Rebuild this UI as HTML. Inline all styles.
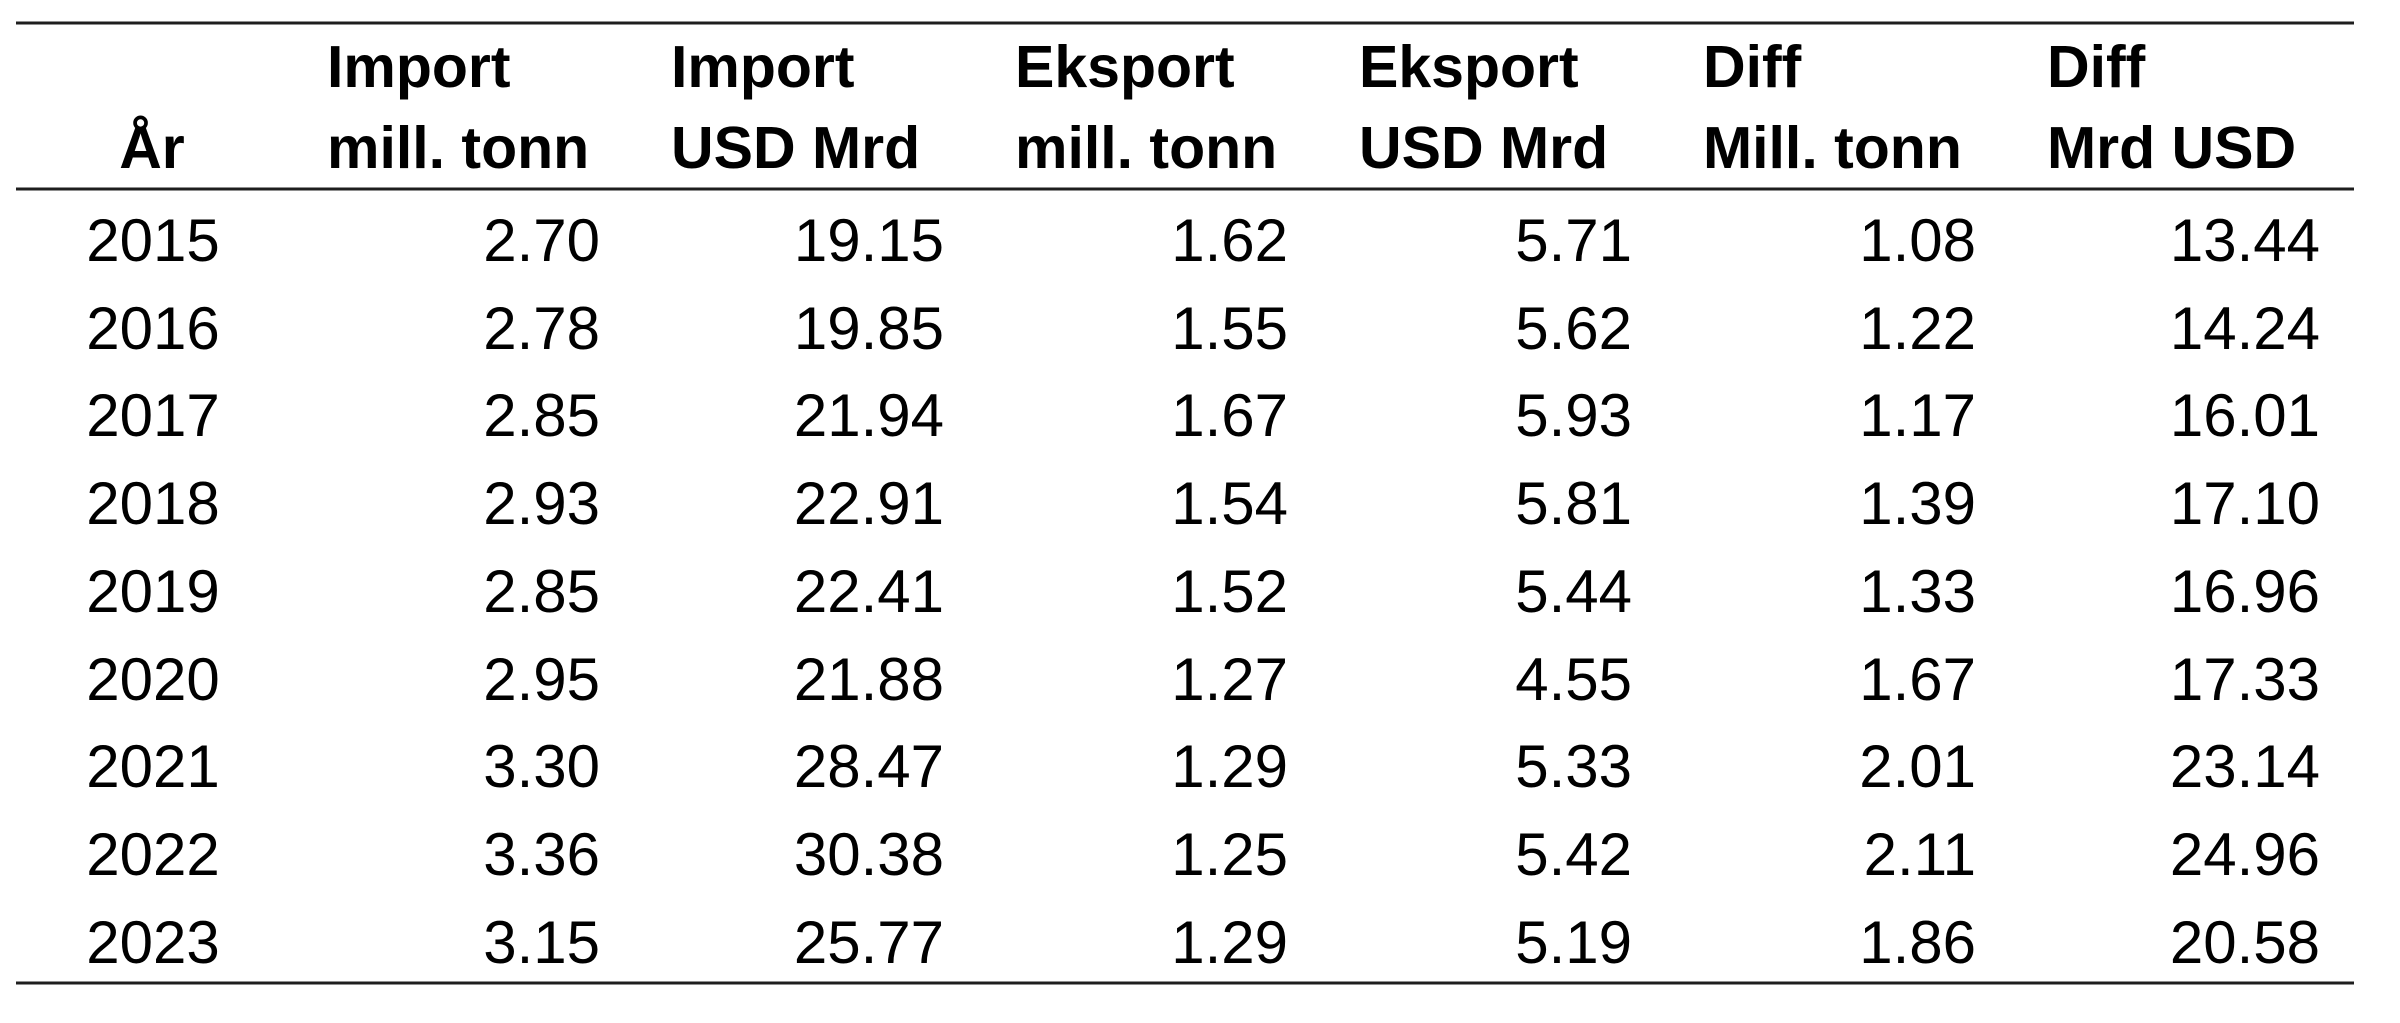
<!DOCTYPE html>
<html>
<head>
<meta charset="utf-8">
<style>
  html, body { margin: 0; padding: 0; background: #ffffff; }
  body { width: 2400px; height: 1023px; overflow: hidden; }
  svg { display: block; }
  .h { font-family: "Liberation Sans", Arial, sans-serif; font-weight: bold; font-size: 59px; fill: #000; }
  .d { font-family: "Liberation Sans", Arial, sans-serif; font-size: 60px; fill: #000; }
</style>
</head>
<body>
<svg width="2400" height="1023" viewBox="0 0 2400 1023" xmlns="http://www.w3.org/2000/svg">
  <rect x="0" y="0" width="2400" height="1023" fill="#ffffff"/>
  <!-- rules -->
  <line x1="16" y1="23" x2="2354" y2="23" stroke="#1e1e1e" stroke-width="3"/>
  <line x1="16" y1="189" x2="2354" y2="189" stroke="#1e1e1e" stroke-width="3"/>
  <line x1="16" y1="983" x2="2354" y2="983" stroke="#1e1e1e" stroke-width="3"/>

  <!-- header -->
  <text class="h" x="152" y="168" text-anchor="middle">År</text>
  <text class="h" x="327" y="87">Import</text>
  <text class="h" x="327" y="168">mill. tonn</text>
  <text class="h" x="671" y="87">Import</text>
  <text class="h" x="671" y="168">USD Mrd</text>
  <text class="h" x="1015" y="87">Eksport</text>
  <text class="h" x="1015" y="168">mill. tonn</text>
  <text class="h" x="1359" y="87">Eksport</text>
  <text class="h" x="1359" y="168">USD Mrd</text>
  <text class="h" x="1703" y="87">Diff</text>
  <text class="h" x="1703" y="168">Mill. tonn</text>
  <text class="h" x="2047" y="87">Diff</text>
  <text class="h" x="2047" y="168">Mrd USD</text>

  <!-- rows -->
  <g class="d">
    <!-- 2015 -->
    <text x="153" y="261" text-anchor="middle">2015</text>
    <text x="600" y="261" text-anchor="end">2.70</text>
    <text x="944" y="261" text-anchor="end">19.15</text>
    <text x="1288" y="261" text-anchor="end">1.62</text>
    <text x="1632" y="261" text-anchor="end">5.71</text>
    <text x="1976" y="261" text-anchor="end">1.08</text>
    <text x="2320" y="261" text-anchor="end">13.44</text>
    <!-- 2016 -->
    <text x="153" y="349" text-anchor="middle">2016</text>
    <text x="600" y="349" text-anchor="end">2.78</text>
    <text x="944" y="349" text-anchor="end">19.85</text>
    <text x="1288" y="349" text-anchor="end">1.55</text>
    <text x="1632" y="349" text-anchor="end">5.62</text>
    <text x="1976" y="349" text-anchor="end">1.22</text>
    <text x="2320" y="349" text-anchor="end">14.24</text>
    <!-- 2017 -->
    <text x="153" y="436" text-anchor="middle">2017</text>
    <text x="600" y="436" text-anchor="end">2.85</text>
    <text x="944" y="436" text-anchor="end">21.94</text>
    <text x="1288" y="436" text-anchor="end">1.67</text>
    <text x="1632" y="436" text-anchor="end">5.93</text>
    <text x="1976" y="436" text-anchor="end">1.17</text>
    <text x="2320" y="436" text-anchor="end">16.01</text>
    <!-- 2018 -->
    <text x="153" y="524" text-anchor="middle">2018</text>
    <text x="600" y="524" text-anchor="end">2.93</text>
    <text x="944" y="524" text-anchor="end">22.91</text>
    <text x="1288" y="524" text-anchor="end">1.54</text>
    <text x="1632" y="524" text-anchor="end">5.81</text>
    <text x="1976" y="524" text-anchor="end">1.39</text>
    <text x="2320" y="524" text-anchor="end">17.10</text>
    <!-- 2019 -->
    <text x="153" y="612" text-anchor="middle">2019</text>
    <text x="600" y="612" text-anchor="end">2.85</text>
    <text x="944" y="612" text-anchor="end">22.41</text>
    <text x="1288" y="612" text-anchor="end">1.52</text>
    <text x="1632" y="612" text-anchor="end">5.44</text>
    <text x="1976" y="612" text-anchor="end">1.33</text>
    <text x="2320" y="612" text-anchor="end">16.96</text>
    <!-- 2020 -->
    <text x="153" y="700" text-anchor="middle">2020</text>
    <text x="600" y="700" text-anchor="end">2.95</text>
    <text x="944" y="700" text-anchor="end">21.88</text>
    <text x="1288" y="700" text-anchor="end">1.27</text>
    <text x="1632" y="700" text-anchor="end">4.55</text>
    <text x="1976" y="700" text-anchor="end">1.67</text>
    <text x="2320" y="700" text-anchor="end">17.33</text>
    <!-- 2021 -->
    <text x="153" y="787" text-anchor="middle">2021</text>
    <text x="600" y="787" text-anchor="end">3.30</text>
    <text x="944" y="787" text-anchor="end">28.47</text>
    <text x="1288" y="787" text-anchor="end">1.29</text>
    <text x="1632" y="787" text-anchor="end">5.33</text>
    <text x="1976" y="787" text-anchor="end">2.01</text>
    <text x="2320" y="787" text-anchor="end">23.14</text>
    <!-- 2022 -->
    <text x="153" y="875" text-anchor="middle">2022</text>
    <text x="600" y="875" text-anchor="end">3.36</text>
    <text x="944" y="875" text-anchor="end">30.38</text>
    <text x="1288" y="875" text-anchor="end">1.25</text>
    <text x="1632" y="875" text-anchor="end">5.42</text>
    <text x="1976" y="875" text-anchor="end">2.11</text>
    <text x="2320" y="875" text-anchor="end">24.96</text>
    <!-- 2023 -->
    <text x="153" y="963" text-anchor="middle">2023</text>
    <text x="600" y="963" text-anchor="end">3.15</text>
    <text x="944" y="963" text-anchor="end">25.77</text>
    <text x="1288" y="963" text-anchor="end">1.29</text>
    <text x="1632" y="963" text-anchor="end">5.19</text>
    <text x="1976" y="963" text-anchor="end">1.86</text>
    <text x="2320" y="963" text-anchor="end">20.58</text>
  </g>
</svg>
</body>
</html>
